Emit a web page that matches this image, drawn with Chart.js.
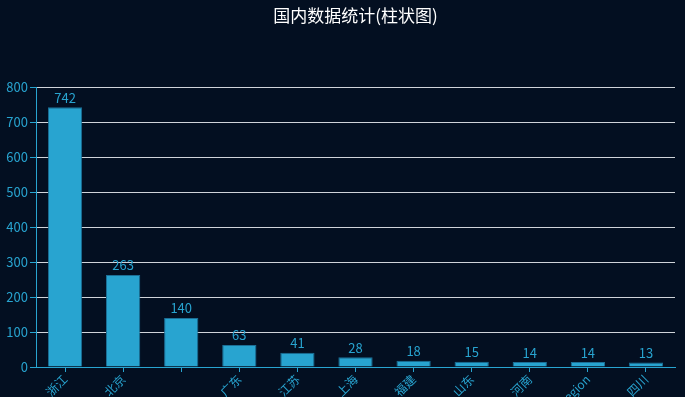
<!DOCTYPE html>
<html>
<head>
<meta charset="utf-8">
<script src="https://cdn.jsdelivr.net/npm/chart.js@4/dist/chart.umd.min.js"></script>
<style>
html,body{margin:0;padding:0;background:#030f21;}
#wrap{width:685px;height:397px;position:relative;}
</style>
</head>
<body>
<div id="wrap"><canvas id="c" width="685" height="397"></canvas></div>
<script>
const categories = ['浙江','北京','','广东','江苏','上海','福建','山东','河南','Region','四川'];
const values = [742,263,140,63,41,28,18,15,14,14,13];
const yTicks = [0,100,200,300,400,500,600,700,800];
const titleText = '国内数据统计(柱状图)';

const BLUE = '#28a4d0';
const FONT = "'Noto Sans CJK SC','Noto Sans','DejaVu Sans',sans-serif";

const bgPlugin = {
  id:'bg',
  beforeDraw(chart){
    const ctx=chart.ctx;
    ctx.save();ctx.fillStyle='#030f21';ctx.fillRect(0,0,chart.width,chart.height);ctx.restore();
  }
};
const titlePlugin = {
  id:'ctitle',
  afterDraw(chart){
    const ctx=chart.ctx, a=chart.chartArea;
    ctx.save();
    ctx.fillStyle='#ffffff';
    ctx.font="17px "+FONT;
    ctx.textAlign='center';ctx.textBaseline='middle';
    ctx.fillText(titleText,(a.left+a.right)/2,16);
    ctx.restore();
  }
};
const labelPlugin = {
  id:'vlabels',
  afterDatasetsDraw(chart){
    const ctx=chart.ctx;
    const meta=chart.getDatasetMeta(0);
    ctx.save();
    ctx.fillStyle=BLUE;
    ctx.font="13px "+FONT;
    ctx.textAlign='center';ctx.textBaseline='bottom';
    meta.data.forEach((el,i)=>{
      ctx.fillText(String(values[i]),el.x,el.y-3);
    });
    ctx.restore();
  }
};

new Chart(document.getElementById('c'),{
  type:'bar',
  data:{labels:categories,datasets:[{
    data:values,
    backgroundColor:'#28a4d0',
    borderColor:'#1c6f96',
    borderWidth:1,
    categoryPercentage:1,
    barPercentage:0.59
  }]},
  options:{
    responsive:false,
    animation:false,
    layout:{padding:{top:87,right:10,left:0,bottom:0}},
    plugins:{legend:{display:false},tooltip:{enabled:false},title:{display:false}},
    scales:{
      x:{
        offset:true,
        grid:{display:true,drawOnChartArea:false,tickColor:BLUE,tickLength:5,offset:false},
        border:{color:BLUE,width:1},
        ticks:{color:BLUE,font:{size:12,family:FONT},maxRotation:45,minRotation:45,autoSkip:false,padding:0},
        afterFit(s){s.height=30;}
      },
      y:{
        min:0,max:800,
        afterBuildTicks(s){s.ticks=yTicks.map(v=>({value:v}));},
        grid:{color:'#d0d4da',tickColor:BLUE,tickLength:6,lineWidth:1},
        border:{color:BLUE,width:1},
        ticks:{color:BLUE,font:{size:13,family:FONT},padding:2},
        afterFit(s){s.width=36;}
      }
    }
  },
  plugins:[bgPlugin,titlePlugin,labelPlugin]
});
</script>
</body>
</html>
